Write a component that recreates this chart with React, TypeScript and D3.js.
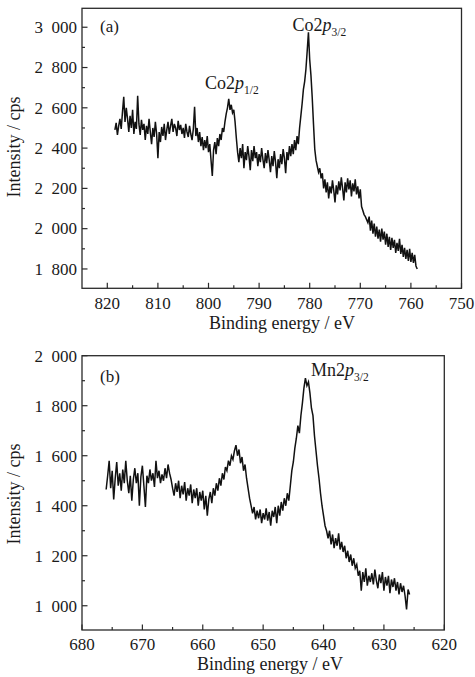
import React from "react";
import * as d3 from "d3";

// ---------- Data ----------
// Panel (a): Co 2p, sampled every 0.25 eV from 818.5 eV downward
const coStartEnergy = 818.5;
const coStep = 0.25;
const coIntensity = [
  2490, 2525, 2465, 2510, 2545, 2495, 2580, 2655, 2530, 2600,
  2545, 2480, 2560, 2500, 2590, 2470, 2530, 2495, 2660, 2520,
  2465, 2540, 2490, 2520, 2440, 2510, 2470, 2545, 2480, 2420,
  2500, 2455, 2530, 2470, 2350, 2480, 2430, 2505, 2460, 2520,
  2440, 2490, 2530, 2470, 2510, 2545, 2480, 2520, 2500, 2460,
  2535, 2490, 2515, 2470, 2500, 2450, 2520, 2480, 2455, 2510,
  2470, 2440, 2495, 2605, 2460, 2500, 2430, 2480, 2410, 2455,
  2390, 2440, 2400, 2460, 2380, 2420, 2340, 2262, 2390, 2430,
  2370, 2450, 2410, 2470, 2440, 2500, 2480, 2530, 2570, 2600,
  2645, 2590, 2615, 2575, 2590, 2530, 2450, 2380, 2330, 2400,
  2350, 2420, 2300, 2380, 2340, 2410, 2360, 2290, 2390, 2335,
  2410, 2350, 2380, 2310, 2370, 2330, 2400, 2345, 2300, 2375,
  2325, 2390, 2340, 2280, 2360, 2310, 2385, 2330, 2250, 2345,
  2300, 2370, 2320, 2395, 2350, 2275, 2380, 2340, 2410, 2360,
  2420, 2370, 2440, 2390, 2460, 2420, 2500, 2560, 2620, 2690,
  2730, 2790, 2880, 2975, 2840, 2760, 2650, 2520, 2395, 2340,
  2310, 2280, 2300, 2250, 2275, 2200, 2245, 2180, 2230, 2150,
  2210, 2175, 2240, 2190, 2130, 2215, 2170, 2235, 2190, 2255,
  2200, 2140, 2230, 2180, 2250, 2195, 2240, 2160, 2225, 2185,
  2245, 2170, 2210, 2150, 2195, 2110, 2090, 2070, 2060, 2045,
  2030, 2060, 1990, 2040, 1975, 2025, 1960, 2010, 1950, 1995,
  1935, 2000, 1945, 1985, 1920, 1975, 1910, 1960, 1895, 1955,
  1905, 1945, 1880, 1930, 1890, 1950, 1875, 1920, 1860, 1905,
  1850, 1895, 1840, 1900, 1835, 1880, 1830, 1870, 1815, 1800,
];

// Panel (b): Mn 2p, sampled every 0.25 eV from 676.0 eV downward
const mnStartEnergy = 676.0;
const mnStep = 0.25;
const mnIntensity = [
  1465, 1520, 1580, 1470, 1540, 1425, 1510, 1575, 1480, 1530,
  1460, 1545, 1490, 1580, 1500, 1450, 1520, 1420, 1505, 1550,
  1490, 1530, 1400, 1515, 1560, 1480, 1395, 1520, 1490, 1545,
  1500, 1530, 1475, 1580, 1510, 1540, 1490, 1525, 1500, 1550,
  1510, 1565, 1530, 1505, 1470, 1440, 1490, 1455, 1500, 1430,
  1480, 1445, 1495, 1420, 1470, 1440, 1485, 1410, 1465, 1430,
  1470, 1400, 1455, 1420, 1460, 1385, 1440, 1360, 1425, 1455,
  1410, 1470, 1440, 1490, 1460, 1510, 1480, 1530, 1505, 1555,
  1540, 1580, 1560, 1600, 1585, 1620, 1642, 1600, 1625, 1570,
  1595, 1540, 1565, 1510, 1470, 1430, 1400, 1370, 1395, 1345,
  1380, 1350, 1385, 1330, 1370, 1345, 1390, 1340, 1375, 1320,
  1380, 1355, 1395, 1330, 1400, 1360, 1415, 1380, 1430, 1400,
  1450, 1420, 1480, 1540, 1575, 1630, 1670, 1720, 1690, 1760,
  1810, 1870, 1910, 1880, 1895, 1850, 1790, 1760, 1680, 1620,
  1560, 1510, 1450, 1400, 1360, 1320, 1300, 1270, 1300, 1245,
  1285, 1230, 1270, 1240, 1290, 1225, 1255, 1215, 1240, 1190,
  1220, 1175, 1205, 1160, 1190, 1150, 1165, 1120, 1140, 1060,
  1135, 1095, 1150, 1080, 1120, 1095, 1130, 1085, 1145, 1100,
  1070, 1125, 1090, 1135, 1060, 1115, 1080, 1120, 1050, 1105,
  1075, 1110, 1060, 1095, 1045, 1090, 1055, 1080, 1040, 985,
  1065, 1045,
];

// Axis ticks
const coXTicks = [820, 810, 800, 790, 780, 770, 760, 750];
const coXMinor = [815, 805, 795, 785, 775, 765, 755];
const coYTicks = [1800, 2000, 2200, 2400, 2600, 2800, 3000];
const coYMinor = [1900, 2100, 2300, 2500, 2700, 2900];

const mnXTicks = [680, 670, 660, 650, 640, 630, 620];
const mnXMinor = [675, 665, 655, 645, 635, 625];
const mnYTicks = [1000, 1200, 1400, 1600, 1800, 2000];
const mnYMinor = [1100, 1300, 1500, 1700, 1900];

const xTitle = "Binding energy / eV";
const yTitle = "Intensity / cps";

// ---------- Drawing ----------
const FONT = "'Liberation Serif', 'Times New Roman', serif";
const AXIS = "#2a2a2a";

function fmt(v: number) {
  const s = String(v);
  if (s.length > 3) return s.slice(0, s.length - 3) + "\u2002" + s.slice(s.length - 3);
  return s;
}

type PanelProps = {
  start: number;
  step: number;
  values: number[];
  xDomain: [number, number];
  yDomain: [number, number];
  left: number;
  right: number;
  top: number;
  bottom: number;
  xTicks: number[];
  xMinor: number[];
  yTicks: number[];
  yMinor: number[];
  titleX: number;
  xLabelY: number;
  xTitleY: number;
  yTitleCenter: number;
  extras: () => React.ReactNode;
};

function Panel(p: PanelProps) {
  const x = d3.scaleLinear().domain(p.xDomain).range([p.left, p.right]);
  const y = d3.scaleLinear().domain(p.yDomain).range([p.bottom, p.top]);
  const pts = p.values.map((v, i) => [p.start - i * p.step, v] as [number, number]);
  const line = d3
    .line<[number, number]>()
    .x((d) => x(d[0]))
    .y((d) => y(d[1]));
  return (
    <g>
      <path d={line(pts) || ""} fill="none" stroke="#111" strokeWidth={1.5} strokeLinejoin="miter" />
      <rect
        x={p.left}
        y={p.top}
        width={p.right - p.left}
        height={p.bottom - p.top}
        fill="none"
        stroke={AXIS}
        strokeWidth={1.3}
      />
      {p.xTicks.map((t) => (
        <g key={"xt" + t}>
          <line x1={x(t)} x2={x(t)} y1={p.bottom} y2={p.bottom - 5.5} stroke={AXIS} strokeWidth={1.2} />
          <text x={x(t)} y={p.xLabelY} textAnchor="middle" fontSize={17} fill="#1a1a1a" fontFamily={FONT}>
            {t}
          </text>
        </g>
      ))}
      {p.xMinor.map((t) => (
        <line key={"xm" + t} x1={x(t)} x2={x(t)} y1={p.bottom} y2={p.bottom - 3} stroke={AXIS} strokeWidth={1.2} />
      ))}
      {p.yTicks.map((t) => (
        <g key={"yt" + t}>
          <line x1={p.left} x2={p.left + 5.5} y1={y(t)} y2={y(t)} stroke={AXIS} strokeWidth={1.2} />
          <text x={p.left - 5} y={y(t) + 5.8} textAnchor="end" fontSize={17} fill="#1a1a1a" fontFamily={FONT}>
            {fmt(t)}
          </text>
        </g>
      ))}
      {p.yMinor.map((t) => (
        <line key={"ym" + t} x1={p.left} x2={p.left + 3} y1={y(t)} y2={y(t)} stroke={AXIS} strokeWidth={1.2} />
      ))}
      <text x={p.titleX} y={p.xTitleY} textAnchor="middle" fontSize={18} fill="#1a1a1a" fontFamily={FONT}>
        {xTitle}
      </text>
      <text
        transform={`translate(20,${p.yTitleCenter}) rotate(-90)`}
        textAnchor="middle"
        fontSize={18}
        fill="#1a1a1a"
        fontFamily={FONT}
      >
        {yTitle}
      </text>
      {p.extras()}
    </g>
  );
}

function Label({ x, y, main, sub }: { x: number; y: number; main: string; sub: string }) {
  return (
    <text x={x} y={y} fontSize={18} fill="#1a1a1a" fontFamily={FONT}>
      {main}
      <tspan fontStyle="italic">p</tspan>
      <tspan fontSize={11.5} dy={5}>
        {sub}
      </tspan>
    </text>
  );
}

export default function App() {
  return (
    <svg
      width={475}
      height={677}
      viewBox="0 0 475 677"
      style={{ position: "absolute", left: 0, top: 0, background: "#fff" }}
    >
      <rect x={0} y={0} width={475} height={677} fill="#fff" />
      <Panel
        start={coStartEnergy}
        step={coStep}
        values={coIntensity}
        xDomain={[825, 750]}
        yDomain={[1704, 3094]}
        left={82}
        right={461.5}
        top={8.3}
        bottom={288.3}
        xTicks={coXTicks}
        xMinor={coXMinor}
        yTicks={coYTicks}
        yMinor={coYMinor}
        titleX={282}
        xLabelY={308.5}
        xTitleY={328.5}
        yTitleCenter={147}
        extras={() => (
          <g>
            <text x={100} y={32} fontSize={17} fill="#1a1a1a" fontFamily={FONT}>(a)</text>
            <Label x={292.5} y={30.5} main="Co2" sub="3/2" />
            <Label x={205} y={88.5} main="Co2" sub="1/2" />
          </g>
        )}
      />
      <Panel
        start={mnStartEnergy}
        step={mnStep}
        values={mnIntensity}
        xDomain={[680, 620]}
        yDomain={[903, 2000]}
        left={82}
        right={444.3}
        top={355.7}
        bottom={630}
        xTicks={mnXTicks}
        xMinor={mnXMinor}
        yTicks={mnYTicks}
        yMinor={mnYMinor}
        titleX={270}
        xLabelY={650}
        xTitleY={670}
        yTitleCenter={494}
        extras={() => (
          <g>
            <text x={100} y={382} fontSize={17} fill="#1a1a1a" fontFamily={FONT}>(b)</text>
            <Label x={311} y={375.5} main="Mn2" sub="3/2" />
          </g>
        )}
      />
    </svg>
  );
}
